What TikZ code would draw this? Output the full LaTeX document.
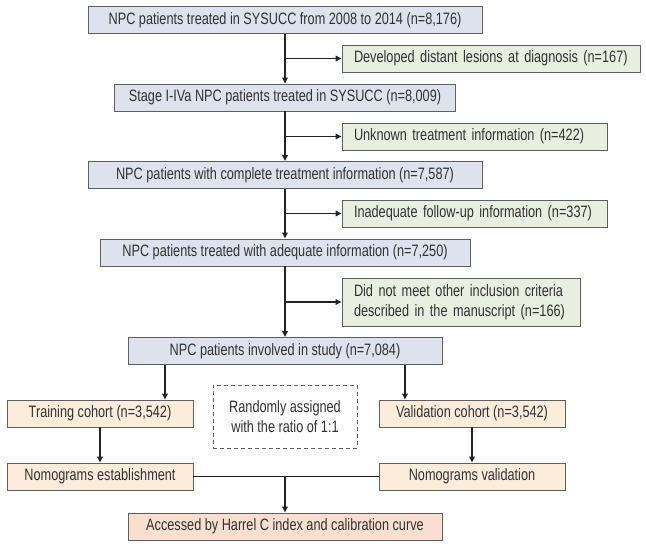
\documentclass[tikz,border=0pt]{standalone}
\usepackage{fontspec}
\setmainfont{Liberation Sans}[FakeStretch=0.77]
\usetikzlibrary{arrows.meta}
\definecolor{mainfill}{RGB}{222,225,238}
\definecolor{sidefill}{RGB}{234,238,222}
\definecolor{cohfill}{RGB}{252,236,220}
\definecolor{finfill}{RGB}{250,222,208}
\definecolor{edgecol}{RGB}{95,95,95}
\definecolor{arrcol}{RGB}{35,35,35}
\definecolor{txtcol}{RGB}{50,50,50}
\begin{document}
\begin{tikzpicture}[x=1pt,y=-1pt,
  box/.style={draw=edgecol, line width=0.9pt, inner sep=0pt, minimum height=27pt,
    font=\fontsize{16.5}{19.5}\selectfont, text=txtcol},
  mainbox/.style={box, fill=mainfill},
  sidebox/.style={box, fill=sidefill, inner xsep=12pt, align=left},
  cohbox/.style={box, fill=cohfill, minimum width=186pt},
  finbox/.style={box, fill=finfill},
  dashbox/.style={box, dash pattern=on 4pt off 3pt, align=center, fill=none},
  conn/.style={draw=arrcol, line width=1.5pt},
  arrowc/.style={conn, -{Triangle[length=6pt,width=5.5pt]}}
]
\path[use as bounding box, fill=white] (0,0) rectangle (646,546);

\node[mainbox, minimum width=394pt] (b1) at (285,20) {NPC patients treated in SYSUCC from 2008 to 2014 (n=8,176)};
\node[sidebox, text width=274pt] (s1) at (491,58.5) {Developed distant lesions at diagnosis (n=167)};
\node[mainbox, minimum width=341pt] (b2) at (285,97.5) {Stage I-IVa NPC patients treated in SYSUCC (n=8,009)};
\node[sidebox, text width=241pt] (s2) at (474.5,136.5) {Unknown treatment information (n=422)};
\node[mainbox, minimum width=394pt] (b3) at (285,175) {NPC patients with complete treatment information (n=7,587)};
\node[sidebox, text width=241pt] (s3) at (474.5,213.5) {Inadequate follow-up information (n=337)};
\node[mainbox, minimum width=370pt] (b4) at (285,252.5) {NPC patients treated with adequate information (n=7,250)};
\node[sidebox, text width=214pt, minimum height=48pt] (s4) at (461,302) {Did not meet other inclusion criteria\\described in the manuscript (n=166)};
\node[mainbox, minimum width=314pt] (b5) at (285,351) {NPC patients involved in study (n=7,084)};
\node[cohbox] (tr) at (100,413.5) {Training cohort (n=3,542)};
\node[cohbox] (va) at (472,413.5) {Validation cohort (n=3,542)};
\node[dashbox, minimum width=144pt, minimum height=63pt] (rd) at (285,416.5) {Randomly assigned\\with the ratio of 1:1};
\node[cohbox] (ne) at (100,476.5) {Nomograms establishment};
\node[cohbox] (nv) at (472,476.5) {Nomograms validation};
\node[finbox, minimum width=314pt] (fin) at (285,526.5) {Accessed by Harrel C index and calibration curve};

\draw[arrowc] (b1.south) -- (b1.south |- b2.north);
\draw[arrowc] (b1.south |- s1.west) -- (s1.west);
\draw[arrowc] (b2.south -| b1.south) -- (b1.south |- b3.north);
\draw[arrowc] (b1.south |- s2.west) -- (s2.west);
\draw[arrowc] (b3.south) -- (b3.south |- b4.north);
\draw[arrowc] (b3.south |- s3.west) -- (s3.west);
\draw[arrowc] (b4.south) -- (b4.south |- b5.north);
\draw[arrowc] (b4.south |- s4.west) -- (s4.west);
\draw[arrowc] ([xshift=-120pt]b5.south) -- ([xshift=-120pt]b5.south |- tr.north);
\draw[arrowc] ([xshift=120pt]b5.south) -- ([xshift=120pt]b5.south |- va.north);
\draw[arrowc] (tr.south) -- (ne.north);
\draw[arrowc] (va.south) -- (nv.north);
\draw[conn] (ne.east) -- (nv.west);
\draw[arrowc] (ne.east -| fin.north) -- (fin.north);
\end{tikzpicture}
\end{document}
